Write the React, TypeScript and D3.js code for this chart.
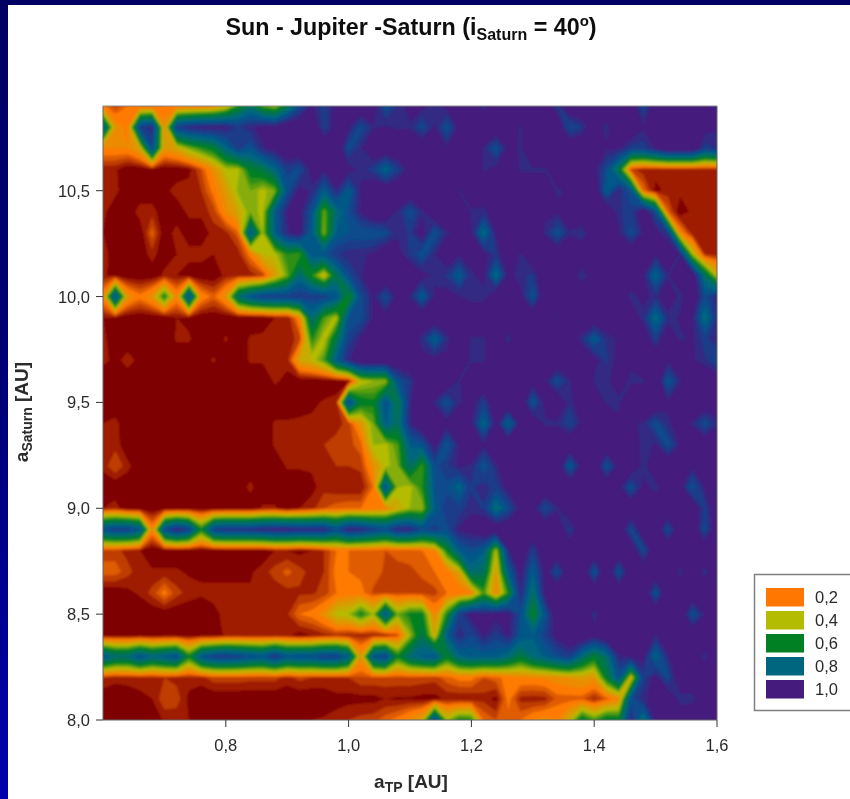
import * as d3 from 'd3'

// percent values, one list per a_Saturn row, a_TP from 0.60 to 1.60 in 0.02 steps
const row109 = [22,12,20,18,18,20,20,20,22,25, 35,60,75,55,45,70,90,96,92,97, 100,100,100,88,94,97,97,94,97,100, 100,94,100,100,100,100,100,93,100,100, 100,100,100,100,90,100,100,100,100,100,100]
const row108 = [85,30,22,92,95,28,92,95,96,96, 96,93,95,97,97,100,100,100,92,97, 96,90,95,96,95,95,90,96,88,97, 100,100,100,100,95,100,100,100,90,93, 100,94,100,100,96,100,100,100,100,97,96]
const row107 = [25,25,25,35,90,30,35,48,58,65, 82,92,88,95,97,100,100,100,100,100, 90,95,100,100,100,100,100,100,96,100, 100,95,88,97,95,100,100,100,100,100, 100,96,96,92,92,96,100,100,100,92,94]
const row106 = [6,6,0,0,3,0,0,3,15,28, 42,42,65,70,82,92,90,97,96,100, 97,95,92,82,92,97,100,100,100,100, 100,95,97,100,95,95,95,100,100,100, 97,90,70,12,7,7,7,7,7,7,7]
const row105 = [8,7,0,0,0,3,8,8,10,22, 32,47,50,42,50,88,97,95,85,95, 85,96,100,100,100,100,100,100,100,95, 100,100,100,100,100,100,100,95,96,100, 100,85,95,88,20,3,7,7,7,7,7]
const row104 = [7,0,0,8,8,0,0,7,7,12, 27,35,50,42,85,96,97,88,50,80, 90,96,100,100,95,89,95,100,100,100, 95,94,100,100,100,100,96,96,100,100, 100,100,94,92,100,90,18,0,7,7,7]
const row103 = [5,0,0,0,18,0,8,0,0,8, 8,18,88,45,85,95,97,85,48,85, 88,88,88,90,95,93,98,88,95,96, 96,80,96,100,100,100,95,88,95,93, 100,100,96,90,96,97,93,25,7,7,7]
const row102 = [9,0,0,0,8,0,5,8,8,5, 7,7,22,40,42,60,55,88,88,93, 95,95,96,100,97,93,88,95,100,96, 97,97,93,100,95,100,100,100,100,100, 100,100,100,100,100,96,100,95,45,10,7]
const row101 = [6,3,0,0,0,7,5,0,0,0, 7,7,7,12,32,50,80,60,35,72, 90,95,100,100,97,100,97,95,93,85, 95,97,80,97,94,93,100,100,100,93, 100,100,100,100,96,82,95,100,100,75,40]
const row100 = [25,90,30,22,30,62,25,90,25,18, 30,78,88,92,92,92,93,92,92,88, 62,90,96,90,97,95,85,96,97,96, 94,94,100,100,97,87,100,100,100,100, 100,100,100,94,97,94,100,94,100,90,95]
const row99 = [5,3,0,0,0,0,5,3,0,0, 0,0,0,0,5,5,25,80,55,42, 88,90,96,97,98,100,100,100,100,100, 100,100,100,100,100,100,100,95,100,100, 100,100,100,100,94,80,94,96,96,78,94]
const row98 = [7,0,0,0,0,0,6,6,0,0, 6,0,6,7,7,7,12,60,40,70, 92,96,100,100,100,100,94,84,94,100, 95,95,100,94,100,100,100,100,100,94, 85,94,96,100,100,92,100,95,96,92,96]
const row97 = [7,3,8,3,0,0,0,0,0,6, 0,0,6,6,7,7,35,40,55,85, 95,100,100,100,100,100,97,97,97,100, 95,95,100,100,100,100,100,100,100,100, 97,93,97,96,100,100,96,100,96,94,90]
const row96 = [0,0,0,0,0,0,0,0,0,0, 0,0,0,0,6,3,0,0,0,0, 3,40,45,45,88,93,100,100,100,95, 100,100,100,100,100,97,96,89,95,100, 95,95,97,95,95,100,87,95,100,100,100]
const row95 = [0,0,0,0,0,0,0,0,0,0, 0,0,0,0,0,0,0,3,6,8, 92,65,62,90,70,95,100,95,88,95, 97,92,100,100,100,87,97,100,94,100, 100,95,95,100,100,100,96,100,100,100,97]
const row94 = [5,7,0,0,0,0,0,0,0,0, 0,0,0,0,6,6,7,7,7,8, 12,30,50,85,75,95,100,100,97,100, 96,82,97,83,97,100,95,95,91,96, 100,100,96,96,95,89,95,97,95,89,95]
const row93 = [7,8,0,0,0,0,0,0,0,0, 0,0,0,0,6,7,7,8,10,12, 13,18,45,42,55,85,88,97,87,96, 100,96,100,100,100,100,100,100,100,100, 100,100,100,100,94,96,89,96,100,100,100]
const row92 = [7,15,7,0,0,0,0,0,0,0, 0,0,0,0,0,6,6,6,7,10, 10,12,28,42,50,78,55,90,93,96, 95,87,95,100,100,100,100,100,85,97, 100,88,97,100,94,100,100,100,96,100,100]
const row91 = [0,0,0,0,0,0,0,0,0,0, 0,0,7,0,0,0,0,3,8,6, 5,5,20,90,45,42,60,88,90,82, 93,95,92,97,100,100,100,100,100,100, 100,100,97,88,97,94,100,97,88,96,100]
const row90 = [5,8,0,0,0,0,0,0,0,0, 0,0,0,6,6,0,5,8,15,18, 20,20,22,25,35,45,45,85,93,92, 95,93,78,90,97,97,90,95,100,100, 100,100,100,100,100,100,100,100,100,92,100]
const row89 = [90,92,92,88,25,90,96,92,62,92, 94,94,94,95,96,96,95,95,95,90, 96,95,92,90,95,95,90,92,90,96, 97,100,100,100,100,100,100,100,92,100, 100,100,100,90,100,100,90,100,100,90,100]
const row88 = [12,12,8,5,0,0,0,0,0,0, 0,0,0,0,5,5,3,5,10,20, 20,17,18,15,17,17,20,25,62,85, 90,85,42,95,100,92,100,100,100,100, 100,100,100,100,90,100,100,100,100,100,100]
const row87 = [18,18,12,7,6,6,6,4,4,4, 4,4,4,8,12,17,12,8,10,22, 20,18,18,14,13,14,16,20,22,35, 80,75,30,85,97,85,97,90,100,100, 88,100,88,100,100,100,100,94,100,94,100]
const row86 = [0,0,3,6,12,22,12,8,6,6, 6,6,6,6,7,8,9,9,12,20, 22,22,14,14,14,14,13,13,20,20, 25,55,25,60,95,75,97,100,100,100, 100,100,100,100,100,88,100,100,100,100,100]
const row85 = [0,0,0,0,0,0,0,0,0,4, 6,6,6,8,8,9,20,22,28,42, 45,62,45,88,50,62,62,25,60,92, 97,96,97,97,90,62,88,100,100,100, 94,100,100,100,100,100,100,100,88,96,100]
const row84 = [2,2,2,2,2,2,2,2,2,2, 6,6,6,6,6,6,2,5,8,10, 8,8,8,8,15,45,72,35,85,95, 91,96,92,96,88,85,92,97,100,100, 97,100,100,100,100,95,100,100,100,100,100]
const row83 = [88,80,80,90,82,86,90,62,88,92, 93,92,90,88,94,88,90,90,92,92, 85,30,88,92,62,80,85,88,65,82, 85,85,85,80,68,80,85,90,92,80, 65,78,95,97,97,82,95,100,100,94,100]
const row82 = [10,7,8,8,8,10,8,8,8,13, 13,13,12,12,12,8,12,10,10,10, 10,14,14,14,14,14,13,12,18,22, 22,15,18,22,25,25,26,28,30,32, 30,65,88,35,92,97,90,100,100,100,100]
const row81 = [0,0,0,3,5,14,13,3,0,0, 0,0,0,0,0,0,0,0,0,3, 3,3,3,5,4,4,3,3,6,5, 5,8,3,22,8,7,8,17,17,17, 8,17,25,90,95,97,100,94,94,100,100]
const row80 = [0,0,0,0,0,6,6,5,0,0, 0,0,0,0,0,0,3,5,6,7, 10,12,13,18,22,28,35,92,45,62, 60,20,15,18,20,25,28,25,38,68, 55,68,65,95,75,97,100,100,100,100,100]

const gridRows = [row109, row108, row107, row106, row105, row104, row103, row102, row101, row100, row99, row98, row97, row96, row95, row94, row93, row92, row91, row90, row89, row88, row87, row86, row85, row84, row83, row82, row81, row80]

const xTicks = [0.8, 1.0, 1.2, 1.4, 1.6]
const yTicks = [8.0, 8.5, 9.0, 9.5, 10.0, 10.5]
const legendValues = [0.2, 0.4, 0.6, 0.8, 1.0]
const levels = [0.05, 0.1, 0.15, 0.2, 0.25, 0.3, 0.35, 0.4, 0.45, 0.5, 0.55, 0.6, 0.65, 0.7, 0.75, 0.8, 0.84, 0.88, 0.91, 0.935, 0.955]

const FONT = "'Liberation Sans', Arial, sans-serif"
const TEXT = '#2a2a2a'

const plot = { left: 103, right: 717, top: 106, bottom: 720 }

const x = d3.scaleLinear().domain([0.6, 1.6]).range([plot.left, plot.right])
const y = d3.scaleLinear().domain([8, 10.9]).range([plot.bottom, plot.top])

const color = d3.scaleLinear<string>()
  .domain([0, 0.2, 0.4, 0.6, 0.8, 0.88, 0.93, 0.955])
  .range(['#7f0000', '#ff7a00', '#b4bc00', '#008020', '#006680', '#0a4c8c', '#2b2e85', '#451c7d'])
  .clamp(true)

// the colour bands are not evenly spaced across a cell in the original, the high ones are wider
const spread = d3.scaleLinear()
  .domain([0, 0.2, 0.4, 0.6, 0.8, 0.9, 1])
  .range([0, 0.12, 0.29, 0.43, 0.62, 0.76, 1])

const fmt = (d: number) => d.toFixed(1).replace('.', ',')

const nCols = row109.length
const nRows = gridRows.length
const flat = gridRows.flat().map(v => spread(v / 100))

const contourGen = d3.contours().size([nCols, nRows])
const bands = levels.map(level => ({ level, shape: contourGen.contour(flat, spread(level)) }))

// contour coords are cell based: grid point i sits at i + 0.5
const path = d3.geoPath(d3.geoTransform({
  point(cx: number, cy: number) {
    this.stream.point(x(0.6 + (cx - 0.5) * 0.02), y(10.9 - (cy - 0.5) * 0.1))
  },
}))

export default function App() {
  return (
    <svg width={850} height={799} style={{ position: 'absolute', left: 0, top: 0 }} fontFamily={FONT}>
      <defs>
        <linearGradient id="slideBg" x1="0" y1="0" x2="0" y2="1">
          <stop offset="0" stopColor="#000062" />
          <stop offset="0.5" stopColor="#000078" />
          <stop offset="1" stopColor="#0000ac" />
        </linearGradient>
        <clipPath id="plotClip">
          <rect x={plot.left} y={plot.top} width={plot.right - plot.left} height={plot.bottom - plot.top} />
        </clipPath>
        <filter id="soft" x="-2%" y="-2%" width="104%" height="104%">
          <feGaussianBlur stdDeviation="1" />
        </filter>
        <filter id="softText" x="-5%" y="-20%" width="110%" height="140%">
          <feGaussianBlur stdDeviation="0.35" />
        </filter>
      </defs>

      <rect width={850} height={799} fill="url(#slideBg)" />
      <rect x={8} y={5} width={842} height={794} fill="#fff" />

      <g clipPath="url(#plotClip)">
        <g filter="url(#soft)">
          <rect x={plot.left - 5} y={plot.top - 5} width={plot.right - plot.left + 10} height={plot.bottom - plot.top + 10} fill={color(0)} />
          {bands.map(b => (
            <path key={b.level} d={path(b.shape) ?? ''} fill={color(b.level)} />
          ))}
        </g>
      </g>

      {/* frame */}
      <path d={`M${plot.left},${plot.top}V${plot.bottom}H${plot.right}V${plot.top}`} fill="none" stroke="#666" />
      <path d={`M${plot.left},${plot.top}H${plot.right}`} fill="none" stroke="#8a8a8a" />

      <g filter="url(#softText)" fontSize={16.5} fill={TEXT}>
        {yTicks.map(t => (
          <g key={t}>
            <line x1={plot.left - 7} x2={plot.left} y1={y(t)} y2={y(t)} stroke="#333" />
            <text x={plot.left - 13} y={y(t) + 6} textAnchor="end">{fmt(t)}</text>
          </g>
        ))}
        {xTicks.map(t => (
          <g key={t}>
            <line x1={x(t)} x2={x(t)} y1={plot.bottom} y2={plot.bottom + 7} stroke="#333" />
            <text x={x(t)} y={plot.bottom + 31} textAnchor="middle">{fmt(t)}</text>
          </g>
        ))}

        <text x={411} y={35} textAnchor="middle" fontSize={23.3} fontWeight="bold" fill="#111">
          Sun - Jupiter -Saturn (i
          <tspan fontSize={16} dy={5}>Saturn</tspan>
          <tspan dy={-5}> = 40</tspan>
          <tspan fontSize={15} dy={-9}>o</tspan>
          <tspan dy={9}>)</tspan>
        </text>

        <text x={411} y={788} textAnchor="middle" fontSize={19} fontWeight="bold">
          a
          <tspan fontSize={14} dy={4}>TP</tspan>
          <tspan dy={-4}> [AU]</tspan>
        </text>

        <text transform="translate(28,412) rotate(-90)" textAnchor="middle" fontSize={19} fontWeight="bold">
          a
          <tspan fontSize={14} dy={4}>Saturn</tspan>
          <tspan dy={-4}> [AU]</tspan>
        </text>

        {/* legend runs off the right edge */}
        <rect x={754.5} y={574.5} width={110} height={136} fill="#fff" stroke="#808080" strokeWidth={1.5} />
        {legendValues.map((v, i) => (
          <g key={v}>
            <rect x={766} y={588 + i * 23} width={38} height={18.5} fill={i === 0 ? '#ff7700' : color(v)} />
            <text x={815} y={603 + i * 23}>{fmt(v)}</text>
          </g>
        ))}
      </g>
    </svg>
  )
}
